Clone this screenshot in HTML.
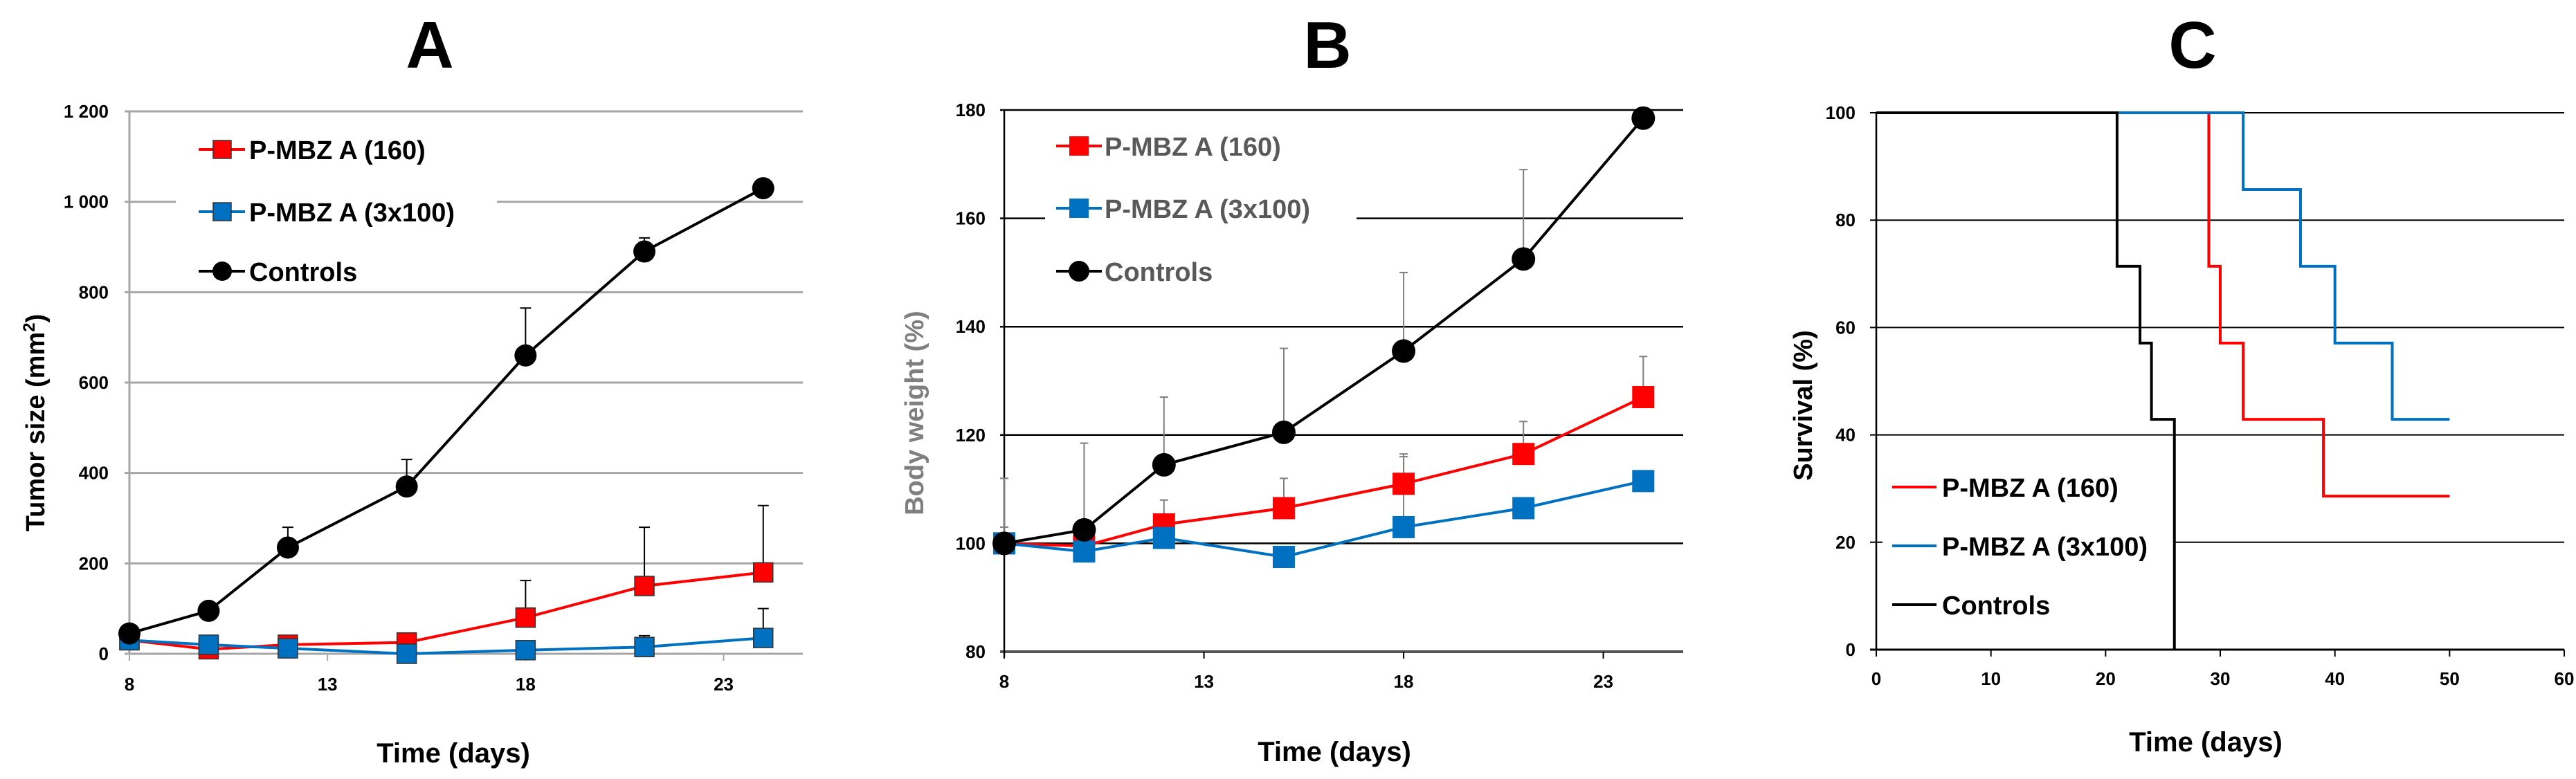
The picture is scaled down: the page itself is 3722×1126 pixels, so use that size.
<!DOCTYPE html>
<html><head><meta charset="utf-8">
<style>
html,body{margin:0;padding:0;background:#fff;}
svg{display:block;font-family:"Liberation Sans",sans-serif;font-weight:bold;}
</style></head>
<body>
<svg id="fig" width="3722" height="1126" viewBox="0 0 3722 1126" xmlns="http://www.w3.org/2000/svg"></svg>
<script>
// ---------- Panel A data ----------
const daysA = [8, 10, 12, 15, 18, 21, 24];
const tumorControls = [45, 95, 235, 370, 660, 890, 1030];
const tumorControlsErr = [null, null, 280, 430, 765, 920, null];
const tumor160 = [30, 10, 20, 25, 80, 150, 180];
const tumor160Err = [null, null, null, 45, 162, 280, 328];
const tumor3x100 = [30, 20, 12, 0, 8, 15, 35];
const tumor3x100Err = [null, null, null, null, null, 40, 100];
const yTicksA = [0, 200, 400, 600, 800, 1000, 1200];
const yTickLabelsA = ["0", "200", "400", "600", "800", "1 000", "1 200"];
const xTicksA = [8, 13, 18, 23];
// ---------- Panel B data ----------
const daysB = [8, 10, 12, 15, 18, 21, 24];
const weightControls = [100, 102.5, 114.5, 120.5, 135.5, 152.5, 178.5];
const weightControlsErr = [112, 118.5, 127, 136, 150, 169, null];
const weight160 = [100, 99.5, 103.5, 106.5, 111, 116.5, 127];
const weight160Err = [null, null, 108, 112, 116.5, 122.5, 134.5];
const weight3x100 = [100, 98.5, 101, 97.5, 103, 106.5, 111.5];
const weight3x100Err = [103, null, null, null, 116, null, null];
const yTicksB = [80, 100, 120, 140, 160, 180];
const xTicksB = [8, 13, 18, 23];
// ---------- Panel C data (step survival) ----------
const survTimes160 = [0, 29, 30, 32, 39, 50];
const surv160 = [100, 71.4, 57.1, 42.9, 28.6, 28.6];
const survTimes3x100 = [0, 32, 37, 40, 45, 50];
const surv3x100 = [100, 85.7, 71.4, 57.1, 42.9, 42.9];
const survTimesCtrl = [0, 21, 23, 24, 26];
const survCtrl = [100, 71.4, 57.1, 42.9, 0];
const yTicksC = [0, 20, 40, 60, 80, 100];
const xTicksC = [0, 10, 20, 30, 40, 50, 60];

const NS = "http://www.w3.org/2000/svg";
const svg = document.getElementById("fig");
function mk(tag, attrs, parent, text) {
  const e = document.createElementNS(NS, tag);
  for (const k in attrs) e.setAttribute(k, attrs[k]);
  if (text !== undefined) e.textContent = text;
  (parent || svg).appendChild(e);
  return e;
}
function scale(d0, d1, r0, r1) { return v => r0 + (v - d0) * (r1 - r0) / (d1 - d0); }

const RED = "#ff0000", BLUE = "#0070c0";

// ================= Panel A =================
{
  const g = mk("g", {});
  
  
  const X = scale(8, 25, 187, 1160), Y = scale(0, 1200, 945, 161);
  let t = mk("text", {x: 621, y: 98, "font-size": 96, "text-anchor": "middle"}, g, "A");
   
  yTicksA.forEach((v, i) => {
    const ln = mk("line", {x1: 180, x2: 1160, y1: Y(v), y2: Y(v), stroke: "#a6a6a6", "stroke-width": 3}, g);
     
    const tl = mk("text", {x: 157, y: Y(v) + 9, "font-size": 26, "text-anchor": "end"}, g, yTickLabelsA[i]);
     
  });
  let ax = mk("line", {x1: 187, x2: 187, y1: 161, y2: 945, stroke: "#a6a6a6", "stroke-width": 3}, g);
   
  xTicksA.forEach(v => {
    mk("line", {x1: X(v), x2: X(v), y1: 945, y2: 955, stroke: "#a6a6a6", "stroke-width": 2}, g);
    const tl = mk("text", {x: X(v), y: 998, "font-size": 26, "text-anchor": "middle"}, g, String(v));
     
  });
  t = mk("text", {x: 655, y: 1102, "font-size": 40, "text-anchor": "middle"}, g, "Time (days)");
   
  t = mk("text", {x: 0, y: 0, "font-size": 38, "text-anchor": "middle", transform: "translate(64,611) rotate(-90)"}, g);
   
  t.innerHTML = 'Tumor size (mm<tspan dy="-14" font-size="24">2</tspan><tspan dy="14">)</tspan>';
  const series = [
    {v: tumor160, e: tumor160Err, c: RED, m: "sq", n: "series-160"},
    {v: tumor3x100, e: tumor3x100Err, c: BLUE, m: "sq", n: "series-3x100"},
    {v: tumorControls, e: tumorControlsErr, c: "#000", m: "ci", n: "series-controls"}
  ];
  series.forEach(s => {
    s.e.forEach((e, i) => { if (e !== null) {
      mk("line", {x1: X(daysA[i]), x2: X(daysA[i]), y1: Y(s.v[i]), y2: Y(e), stroke: "#000", "stroke-width": 2}, g);
      mk("line", {x1: X(daysA[i]) - 8, x2: X(daysA[i]) + 8, y1: Y(e), y2: Y(e), stroke: "#000", "stroke-width": 2}, g);
    }});
  });
  series.forEach(s => {
    const p = mk("polyline", {points: s.v.map((v, i) => X(daysA[i]) + "," + Y(v)).join(" "), fill: "none", stroke: s.c, "stroke-width": 4}, g);
     
    s.v.forEach((v, i) => {
      let m;
      if (s.m === "sq") m = mk("rect", {x: X(daysA[i]) - 14, y: Y(v) - 14, width: 28, height: 28, fill: s.c, stroke: "#333", "stroke-width": 1.5}, g);
      else m = mk("circle", {cx: X(daysA[i]), cy: Y(v), r: 16, fill: "#000"}, g);
       
    });
  });
  // legend
  const lg = mk("g", {}, g);
   
  mk("rect", {x: 254, y: 180, width: 464, height: 240, fill: "#fff"}, lg);
  const rows = [["P-MBZ A (160)", RED, "sq", 216], ["P-MBZ A (3x100)", BLUE, "sq", 306], ["Controls", "#000", "ci", 392]];
  rows.forEach(r => {
    const le = mk("g", {}, lg);
     
    mk("line", {x1: 287, x2: 354, y1: r[3], y2: r[3], stroke: r[1], "stroke-width": 4}, le);
    if (r[2] === "sq") mk("rect", {x: 308, y: r[3] - 13, width: 26, height: 26, fill: r[1], stroke: "#333", "stroke-width": 1.5}, le);
    else mk("circle", {cx: 321, cy: r[3], r: 14, fill: "#000"}, le);
    mk("text", {x: 360, y: r[3] + 14, "font-size": 38}, le, r[0]);
  });
}

// ================= Panel B =================
{
  const g = mk("g", {});
  
  
  const X = scale(8, 25, 1451, 2432), Y = scale(80, 180, 942, 159);
  let t = mk("text", {x: 1918, y: 98, "font-size": 96, "text-anchor": "middle"}, g, "B");
   
  yTicksB.forEach(v => {
    const ln = mk("line", {x1: 1445, x2: 2432, y1: Y(v), y2: Y(v), stroke: v === 80 ? "#555" : "#000", "stroke-width": v === 80 ? 4 : 2.5}, g);
     
    const tl = mk("text", {x: 1424, y: Y(v) + 9, "font-size": 26, "text-anchor": "end"}, g, String(v));
     
  });
  let ax = mk("line", {x1: 1451, x2: 1451, y1: 159, y2: 950, stroke: "#000", "stroke-width": 2.5}, g);
   
  xTicksB.forEach(v => {
    mk("line", {x1: X(v), x2: X(v), y1: 942, y2: 952, stroke: "#000", "stroke-width": 2}, g);
    const tl = mk("text", {x: X(v), y: 994, "font-size": 26, "text-anchor": "middle"}, g, String(v));
     
  });
  t = mk("text", {x: 1928, y: 1100, "font-size": 40, "text-anchor": "middle"}, g, "Time (days)");
   
  t = mk("text", {x: 0, y: 0, "font-size": 38, "text-anchor": "middle", fill: "#7f7f7f", transform: "translate(1334,597) rotate(-90)"}, g, "Body weight (%)");
   
  const series = [
    {v: weight160, e: weight160Err, c: RED, m: "sq", n: "series-160"},
    {v: weight3x100, e: weight3x100Err, c: BLUE, m: "sq", n: "series-3x100"},
    {v: weightControls, e: weightControlsErr, c: "#000", m: "ci", n: "series-controls"}
  ];
  series.forEach(s => {
    s.e.forEach((e, i) => { if (e !== null) {
      mk("line", {x1: X(daysB[i]), x2: X(daysB[i]), y1: Y(s.v[i]), y2: Y(e), stroke: "#7f7f7f", "stroke-width": 2}, g);
      mk("line", {x1: X(daysB[i]) - 6, x2: X(daysB[i]) + 6, y1: Y(e), y2: Y(e), stroke: "#7f7f7f", "stroke-width": 2}, g);
    }});
  });
  series.forEach(s => {
    const p = mk("polyline", {points: s.v.map((v, i) => X(daysB[i]) + "," + Y(v)).join(" "), fill: "none", stroke: s.c, "stroke-width": 4}, g);
     
    s.v.forEach((v, i) => {
      let m;
      if (s.m === "sq") m = mk("rect", {x: X(daysB[i]) - 16, y: Y(v) - 16, width: 32, height: 32, fill: s.c}, g);
      else m = mk("circle", {cx: X(daysB[i]), cy: Y(v), r: 17, fill: "#000"}, g);
       
    });
  });
  const lg = mk("g", {}, g);
   
  mk("rect", {x: 1510, y: 175, width: 450, height: 245, fill: "#fff"}, lg);
  const rows = [["P-MBZ A (160)", RED, "sq", 211], ["P-MBZ A (3x100)", BLUE, "sq", 301], ["Controls", "#000", "ci", 392]];
  rows.forEach(r => {
    const le = mk("g", {}, lg);
     
    mk("line", {x1: 1526, x2: 1592, y1: r[3], y2: r[3], stroke: r[1], "stroke-width": 4}, le);
    if (r[2] === "sq") mk("rect", {x: 1545, y: r[3] - 14, width: 28, height: 28, fill: r[1]}, le);
    else mk("circle", {cx: 1559, cy: r[3], r: 15, fill: "#000"}, le);
    mk("text", {x: 1596, y: r[3] + 14, "font-size": 38, fill: "#595959"}, le, r[0]);
  });
}

// ================= Panel C =================
{
  const g = mk("g", {});
  
  
  const X = scale(0, 60, 2711, 3705), Y = scale(0, 100, 939, 163);
  let t = mk("text", {x: 3168, y: 98, "font-size": 96, "text-anchor": "middle"}, g, "C");
   
  yTicksC.forEach(v => {
    const ln = mk("line", {x1: 2702, x2: 3705, y1: Y(v), y2: Y(v), stroke: "#000", "stroke-width": v === 0 ? 3 : 2}, g);
     
    const tl = mk("text", {x: 2681, y: Y(v) + 9, "font-size": 26, "text-anchor": "end"}, g, String(v));
     
  });
  let ax = mk("line", {x1: 2711, x2: 2711, y1: 163, y2: 939, stroke: "#000", "stroke-width": 2.5}, g);
   
  xTicksC.forEach(v => {
    mk("line", {x1: X(v), x2: X(v), y1: 939, y2: 949, stroke: "#000", "stroke-width": 2}, g);
    const tl = mk("text", {x: X(v), y: 990, "font-size": 26, "text-anchor": "middle"}, g, String(v));
     
  });
  t = mk("text", {x: 3187, y: 1086, "font-size": 40, "text-anchor": "middle"}, g, "Time (days)");
   
  t = mk("text", {x: 0, y: 0, "font-size": 38, "text-anchor": "middle", transform: "translate(2618,586) rotate(-90)"}, g, "Survival (%)");
   
  // legend background masks gridline at 20
  const lg = mk("g", {}, g);
   
  mk("rect", {x: 2720, y: 670, width: 420, height: 235, fill: "#fff"}, lg);
  function step(ts, vs) {
    let pts = [[X(ts[0]), Y(vs[0])]];
    for (let i = 1; i < ts.length; i++) {
      pts.push([X(ts[i]), Y(vs[i - 1])]);
      pts.push([X(ts[i]), Y(vs[i])]);
    }
    return pts.map(p => p.join(",")).join(" ");
  }
  const series = [
    {t: survTimes160, v: surv160, c: RED, n: "survival-160"},
    {t: survTimes3x100, v: surv3x100, c: BLUE, n: "survival-3x100"},
    {t: survTimesCtrl, v: survCtrl, c: "#000", n: "survival-controls"}
  ];
  series.forEach(s => {
    const p = mk("polyline", {points: step(s.t, s.v), fill: "none", stroke: s.c, "stroke-width": 4}, g);
     
  });
  const rows = [["P-MBZ A (160)", RED, 704], ["P-MBZ A (3x100)", BLUE, 789], ["Controls", "#000", 874]];
  rows.forEach(r => {
    const le = mk("g", {}, lg);
     
    mk("line", {x1: 2734, x2: 2798, y1: r[2], y2: r[2], stroke: r[1], "stroke-width": 4}, le);
    mk("text", {x: 2806, y: r[2] + 14, "font-size": 38}, le, r[0]);
  });
}
</script>
</body></html>
